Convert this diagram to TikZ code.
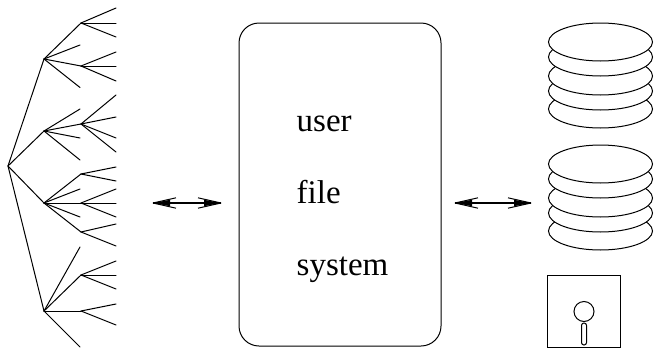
\documentclass[tikz,border=0pt]{standalone}
\usepackage{fontspec}
\setmainfont{Liberation Serif}
\usetikzlibrary{shapes.geometric}
\tikzset{
  edge/.style={line width=1pt,line cap=round,black},
  disk/.style={ellipse,draw,fill=white,line width=1pt,minimum width=104pt,minimum height=38pt,inner sep=0pt},
  label/.style={font=\fontsize{33}{33}\selectfont,anchor=base west,inner sep=0pt},
  shaft/.style={line width=2pt},
  barb/.style={line width=1pt,line cap=butt}
}
\newcommand{\headat}[2]{% tip coordinate, direction (+1 points left-end barbs rightward)
  \draw[barb] (#1) -- ++(#2*23,-5.2);
  \draw[barb] (#1) -- ++(#2*23,5.2);
  \fill (#1) -- ++(#2*17,-3.2) -- ++(0,6.4) -- cycle;
}
\begin{document}
\begin{tikzpicture}[x=1pt,y=-1pt]
\useasboundingbox (0,0) rectangle (656,351);
\coordinate (r) at (8,166);
\foreach \n/\x/\y/\p in {
  a/44/59/r, b/44/131/r, c/44/203/r, d/44/311/r,
  a1/81/23/a, a1x/116/8/a1, a1y/116/23/a1, a1z/116/37/a1,
  a2/80/45/a,
  a3/81/66/a, a3x/116/52/a3, a3y/116/66/a3, a3z/116/81/a3,
  a4/80/87.5/a,
  b1/80/109/b,
  b2/81/124/b, b2w/116/95/b2, b2x/116/117/b2, b2y/116/138/b2, b2z/116/152/b2,
  b3/80/138/b, b4/80/160/b,
  c1/81/174/c, c1x/116/167/c1, c1y/116/181/c1,
  c2/80/189/c,
  c3/81/203/c, c3x/116/189/c3, c3y/116/203/c3, c3z/116/217/c3,
  c4/80/217/c,
  c5/81/232/c, c5x/116/224/c5, c5y/116/246/c5,
  d1/80/247/d,
  d2/81/275/d, d2x/116/261/d2, d2y/116/275/d2, d2z/116/289/d2,
  d3/81/311/d, d3x/116/304/d3, d3y/116/325/d3,
  d4/80/347/d}
{ \coordinate (\n) at (\x,\y); \draw[edge] (\p) -- (\n); }

\node[draw,line width=1pt,rounded corners=20pt,minimum width=202pt,minimum height=323pt,inner sep=0pt] (box) at (340,184.5) {};
\node[label] (t1) at (296.5,131) {user};
\node[label] (t2) at (296.5,203) {file};
\node[label] (t3) at (296.5,275) {system};

\coordinate (la) at (153,203);
\coordinate (lb) at (221,203);
\coordinate (ra) at (455,203);
\coordinate (rb) at (531,203);
\draw[shaft] (la) -- (lb);
\draw[shaft] (ra) -- (rb);
\headat{la}{1}\headat{lb}{-1}\headat{ra}{1}\headat{rb}{-1}

\foreach \n/\y in {p5/109,p4/91,p3/76,p2/57,p1/42}
  \node[disk] (\n) at (600.5,\y) {};
\foreach \n/\y in {q5/231,q4/213,q3/198,q2/179,q1/164}
  \node[disk] (\n) at (600.5,\y) {};

\node[draw,line width=1pt,minimum width=73pt,minimum height=72pt,inner sep=0pt] (floppy) at (584,311) {};
\node[circle,draw,line width=1pt,minimum size=20pt,inner sep=0pt] (hole) at (584,311.5) {};
\node[draw,line width=1pt,rounded corners=2.4pt,minimum width=5pt,minimum height=22pt,inner sep=0pt] (slot) at (584,334) {};
\end{tikzpicture}
\end{document}
